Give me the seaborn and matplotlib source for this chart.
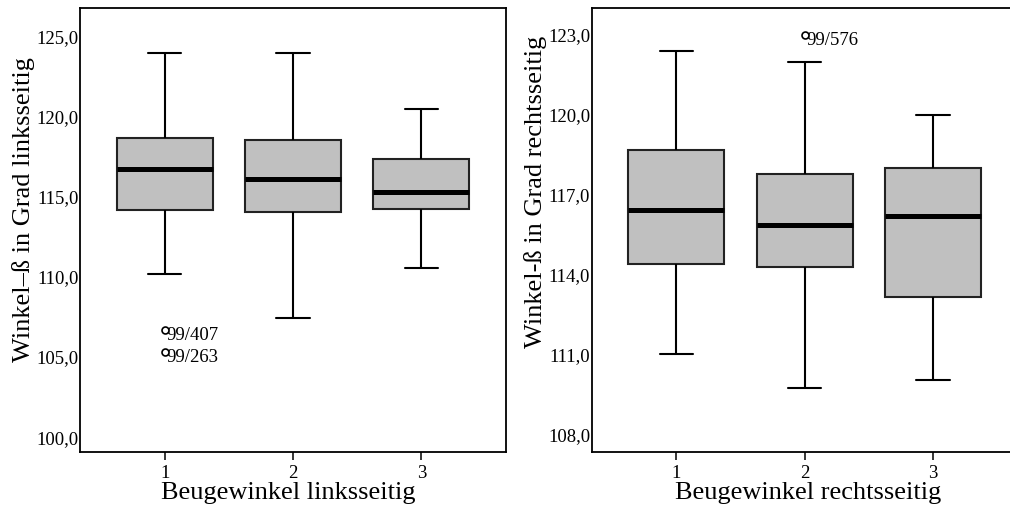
import matplotlib
matplotlib.use("Agg")
import matplotlib.pyplot as plt
import pandas as pd
import seaborn as sns
from matplotlib import ticker

# Five-number summaries (whisker low, Q1, median, Q3, whisker high)
groups = ["1", "2", "3"]

left_low = [110.17, 107.44, 110.58]
left_q1 = [114.17, 114.02, 114.23]
left_med = [116.71, 116.13, 115.27]
left_q3 = [118.65, 118.56, 117.38]
left_high = [123.96, 123.96, 120.46]
left_out_group = ["1", "1"]
left_out_value = [106.67, 105.31]
left_out_label = ["99/407", "99/263"]
left_ticks = [100, 105, 110, 115, 120, 125]

right_low = [111.04, 109.75, 110.06]
right_q1 = [114.41, 114.31, 113.16]
right_med = [116.43, 115.88, 116.20]
right_q3 = [118.68, 117.78, 118.00]
right_high = [122.38, 121.99, 119.98]
right_out_group = ["2"]
right_out_value = [123.0]
right_out_label = ["99/576"]
right_ticks = [108, 111, 114, 117, 120, 123]

sns.set_style("white")
plt.rcParams["font.family"] = ["Liberation Serif", "DejaVu Serif"]
plt.rcParams["axes.linewidth"] = 1.3
for key in ["text.color", "axes.labelcolor", "xtick.color", "ytick.color", "axes.edgecolor"]:
    plt.rcParams[key] = "black"

fig = plt.figure(figsize=(10.1, 5.11), dpi=100)
ax1 = fig.add_axes([0.0792, 0.1164, 0.4218, 0.8679])
ax2 = fig.add_axes([0.5858, 0.1160, 0.4218, 0.8679])


def summary_frame(low, q1, med, q3, high):
    rows = []
    for g, vals in zip(groups, zip(low, q1, med, q3, high)):
        for v in vals:
            rows.append({"group": g, "value": v})
    return pd.DataFrame(rows)


def draw_panel(ax, df, out_group, out_value, out_label, ticks, ylim, xlabel, ylabel,
               ylab_pos, xlab_x):
    sns.boxplot(
        data=df, x="group", y="value", order=groups, ax=ax,
        whis=(0, 100), width=0.75, color="#c0c0c0", saturation=1,
        linecolor="black", linewidth=1.5, showfliers=False,
        boxprops=dict(edgecolor="#222222", linewidth=1.5),
        medianprops=dict(color="black", linewidth=3.6),
        whiskerprops=dict(color="black", linewidth=1.5),
        capprops=dict(color="black", linewidth=1.5),
        capwidths=0.26,
    )
    odf = pd.DataFrame({"group": out_group, "value": out_value})
    sns.stripplot(
        data=odf, x="group", y="value", order=groups, ax=ax, jitter=False,
        color="white", edgecolor="black", linewidth=1.2, size=5, zorder=5,
    )
    for g, v, lab in zip(out_group, out_value, out_label):
        ax.annotate(lab, (groups.index(g), v), xytext=(1.5, -4), textcoords="offset points",
                    ha="left", va="center", fontsize=13.5)

    ax.set_xlim(-0.66, 2.66)
    ax.set_ylim(*ylim)
    ax.yaxis.set_major_locator(ticker.FixedLocator(ticks))
    ax.yaxis.set_major_formatter(
        ticker.FuncFormatter(lambda x, pos: f"{x:.1f}".replace(".", ","))
    )
    ax.tick_params(axis="y", length=0, pad=1, labelsize=13.5)
    ax.tick_params(axis="x", length=5.5, width=1.1, pad=4, labelsize=13.5, bottom=True)
    ax.set_xlabel(xlabel, fontsize=19)
    ax.set_ylabel(ylabel, fontsize=19)
    ax.yaxis.set_label_coords(-0.106, ylab_pos)
    ax.xaxis.set_label_coords(xlab_x, -0.068)
    for s in ax.spines.values():
        s.set_visible(True)
        s.set_color("black")


draw_panel(
    ax1, summary_frame(left_low, left_q1, left_med, left_q3, left_high),
    left_out_group, left_out_value, left_out_label, left_ticks, (99.1, 126.77),
    "Beugewinkel linksseitig", "Winkel–ß in Grad linksseitig", 0.546, 0.488,
)
draw_panel(
    ax2, summary_frame(right_low, right_q1, right_med, right_q3, right_high),
    right_out_group, right_out_value, right_out_label, right_ticks, (107.375, 124.0),
    "Beugewinkel rechtsseitig", "Winkel-ß in Grad rechtsseitig", 0.587, 0.508,
)

fig.savefig("out.png", dpi=100)
